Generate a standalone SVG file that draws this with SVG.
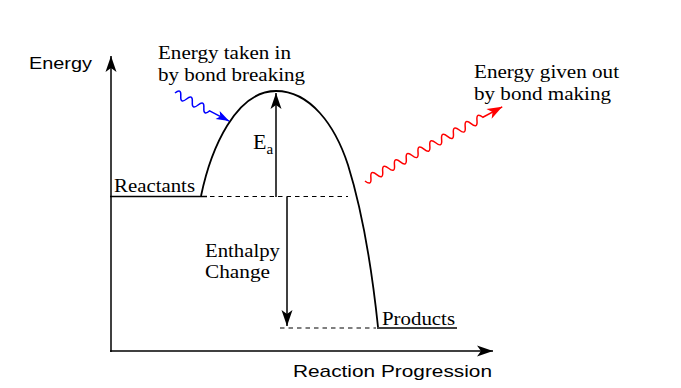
<svg xmlns="http://www.w3.org/2000/svg" width="681" height="388" viewBox="0 0 681 388">
<style>
.serif{font-family:"Liberation Serif","Times New Roman",serif;font-size:19px;fill:#000}
.sans{font-family:"Liberation Sans",Arial,sans-serif;font-size:17px;fill:#000}
.ln{stroke:#000;stroke-width:1.5;fill:none}
.dash{stroke:#000;stroke-width:1.1;fill:none;stroke-dasharray:4.5,4}
.curve{stroke:#000;stroke-width:1.8;fill:none}
</style>
<defs>
<marker id="ah" markerUnits="userSpaceOnUse" orient="auto" markerWidth="20" markerHeight="12" refX="0" refY="0" overflow="visible"><path d="M0,0 L-16,-5.5 L-12,0 L-16,5.5 Z" fill="#000"/></marker>
<marker id="ahb" markerUnits="userSpaceOnUse" orient="auto" markerWidth="20" markerHeight="12" refX="0" refY="0" overflow="visible"><path d="M0,0 L-13,-4.5 L-10,0 L-13,4.5 Z" fill="#0000ff"/></marker>
<marker id="ahr" markerUnits="userSpaceOnUse" orient="auto" markerWidth="20" markerHeight="12" refX="0" refY="0" overflow="visible"><path d="M0,0 L-15,-5.5 L-11,0 L-15,5.5 Z" fill="#ff0000"/></marker>
</defs>
<rect width="681" height="388" fill="#fff"/>
<g id="axes">
<line class="ln" x1="111" y1="352" x2="111" y2="56" marker-end="url(#ah)"/>
<line class="ln" x1="110" y1="351" x2="493" y2="351" marker-end="url(#ah)"/>
<text class="sans" x="29" y="69" textLength="63" lengthAdjust="spacingAndGlyphs">Energy</text>
<text class="sans" x="293" y="377" textLength="199" lengthAdjust="spacingAndGlyphs">Reaction Progression</text>
</g>
<g id="reactants">
<line class="ln" x1="110" y1="196.5" x2="207" y2="196.5"/>
<text class="serif" x="114" y="192" textLength="81" lengthAdjust="spacingAndGlyphs">Reactants</text>
</g>
<g id="products">
<line class="ln" x1="377" y1="328" x2="457" y2="328"/>
<text class="serif" x="382" y="325" textLength="73" lengthAdjust="spacingAndGlyphs">Products</text>
</g>
<g id="energy-curve">
<path class="curve" d="M201,196 C211,148 236,91 276,91 C310,91 335,125 348,165 C362,210 372,270 378,327"/>
</g>
<g id="connectors">
<line class="dash" x1="210" y1="196.5" x2="348" y2="196.5"/>
<line class="dash" x1="280" y1="328" x2="376" y2="328"/>
<line class="ln" x1="276" y1="197" x2="276" y2="93" marker-end="url(#ah)"/>
<line class="ln" x1="287" y1="197" x2="287" y2="326" marker-end="url(#ah)"/>
<path d="M0,0 q3.25,-7.5 6.5,0 t6.5,0 t6.5,0 t6.5,0 t6.5,0 t6.5,0 L61,0" transform="translate(175,93) rotate(27.4)" stroke="#0000ff" stroke-width="1.5" fill="none" marker-end="url(#ahb)"/>
<path d="M0,0 q3.35,8 6.7,0 t6.7,0 t6.7,0 t6.7,0 t6.7,0 t6.7,0 t6.7,0 t6.7,0 t6.7,0 t6.7,0 t6.7,0 t6.7,0 t6.7,0 t6.7,0 t6.7,0 t6.7,0 t6.7,0 t6.7,0 t6.7,0 t6.7,0 L156,0" transform="translate(365,181) rotate(-28.4)" stroke="#ff0000" stroke-width="1.5" fill="none" marker-end="url(#ahr)"/>
</g>
<g id="label-ea">
<text class="serif" x="253" y="149" style="font-size:22px">E</text>
<text class="serif" x="266.5" y="154" style="font-size:15px">a</text>
</g>
<g id="label-enthalpy">
<text class="serif" x="205" y="257" textLength="75" lengthAdjust="spacingAndGlyphs">Enthalpy</text>
<text class="serif" x="205" y="278" textLength="65" lengthAdjust="spacingAndGlyphs">Change</text>
</g>
<g id="label-in">
<text class="serif" x="158" y="59" textLength="133" lengthAdjust="spacingAndGlyphs">Energy taken in</text>
<text class="serif" x="158" y="81" textLength="147" lengthAdjust="spacingAndGlyphs">by bond breaking</text>
</g>
<g id="label-out">
<text class="serif" x="474" y="78" textLength="145" lengthAdjust="spacingAndGlyphs">Energy given out</text>
<text class="serif" x="474" y="100" textLength="137" lengthAdjust="spacingAndGlyphs">by bond making</text>
</g>
</svg>
